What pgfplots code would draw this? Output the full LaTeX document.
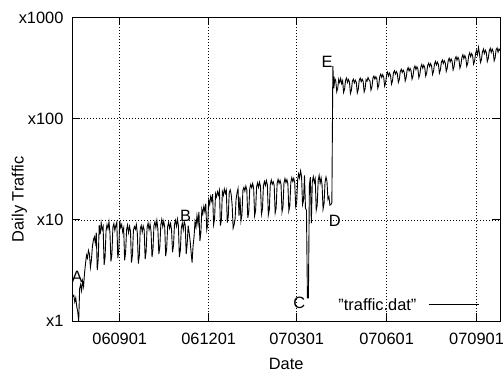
\documentclass[border=0pt]{standalone}
\usepackage{fontspec}
\setmainfont{Liberation Sans}
\usepackage{pgfplots}
\pgfplotsset{compat=1.18}
\newcommand{\fs}{\fontsize{16.4}{19.7}\selectfont}
\begin{document}
\begin{tikzpicture}[font=\fs]
\begin{axis}[
 at={(0pt,0pt)}, anchor=south west,
 width=428pt, height=304pt, scale only axis,
 xmin=-48.4, xmax=389,
 ymode=log, ymin=1, ymax=1000,
 xtick={0,91,181,273,365},
 xticklabels={060901,061201,070301,070601,070901},
 ytick={1,10,100,1000},
 yticklabels={x1,x10,x100,x1000},
 yminorticks=false,
 xmajorgrids, ymajorgrids,
 grid style={black, line width=0.8pt, dash pattern=on 0.8pt off 2.2pt},
 major tick length=8pt,
 tick style={black, line width=1pt},
 axis line style={line width=1pt},
 tick label style={font=\fs},
 xticklabel style={yshift=-8.5pt},
 yticklabel style={xshift=-5.5pt},
 xlabel={Date}, ylabel={Daily Traffic},
 label style={font=\fs},
 xlabel style={at={(axis description cs:0.5,-0.141)}, anchor=center},
 ylabel style={at={(axis description cs:-0.124,0.401)}, anchor=center},
]
\addplot[black, line width=0.9pt] coordinates {
(-48,1.75)(-47,1.8)(-46,1.55)(-45,1.7)(-44,1.4)(-43,1.25)(-42,1.0)(-41,2.1)(-40,2.3)(-39,2.0)(-38,2.5)
(-37,2.2)(-36,3.0)(-35,3.7)(-34,4.5)(-33,4.2)(-32,5.0)(-31,4.6)
(-30,3.4)(-29,4.0)(-28,5.4)(-27,6.3)(-26,6.8)(-25,5.9)(-24,7.5)
(-23,3.2)(-22,4.1)(-21,8.9)(-20,7.2)(-19,9.4)(-18,8.0)(-17,8.6)
(-16,3.6)(-15,4.3)(-14,7.8)(-13,9.0)(-12,8.2)(-11,9.6)(-10,7.4)
(-9,3.9)(-8,4.6)(-7,8.5)(-6,9.2)(-5,7.9)(-4,8.8)(-3,9.5)
(-2,4.2)(-1,5.0)(0,9.8)(1,8.4)(2,9.0)(3,7.6)(4,8.3)
(5,4.0)(6,4.8)(7,8.0)(8,8.9)(9,7.5)(10,8.6)(11,7.7)
(12,3.8)(13,4.5)(14,7.9)(15,8.6)(16,8.1)(17,9.0)(18,7.4)
(19,3.7)(20,4.4)(21,8.2)(22,8.8)(23,7.6)(24,8.7)(25,8.0)
(26,4.1)(27,4.9)(28,8.5)(29,9.3)(30,8.0)(31,9.1)(32,7.8)
(33,4.3)(34,5.1)(35,8.8)(36,9.6)(37,8.4)(38,9.9)(39,8.2)
(40,4.6)(41,5.4)(42,8.9)(43,10.1)(44,8.6)(45,9.7)(46,8.5)
(47,4.4)(48,5.2)(49,8.6)(50,9.5)(51,8.3)(52,9.2)(53,8.0)
(54,4.8)(55,5.6)(56,9.0)(57,9.9)(58,8.7)(59,10.2)(60,8.8)
(61,4.3)(62,5.0)(63,8.4)(64,9.3)(65,8.0)(66,9.6)(67,8.9)
(68,4.6)(69,5.8)(70,8.8)(71,7.5)(72,6.2)(73,4.8)(74,3.8)
(75,5.5)(76,6.8)(77,9.6)(78,8.5)(79,11.0)(80,9.2)(81,12.0)
(82,6.2)(83,7.5)(84,12.8)(85,11.5)(86,13.6)(87,12.2)(88,14.5)
(89,8.0)(90,9.0)(91,15.8)(92,14.2)(93,17.0)(94,15.5)(95,18.0)
(96,9.0)(97,10.2)(98,18.2)(99,16.9)(100,19.0)(101,17.6)(102,19.5)
(103,8.8)(104,10.0)(105,19.0)(106,17.5)(107,20.2)(108,18.4)(109,19.8)
(110,9.4)(111,10.8)(112,18.6)(113,19.8)(114,17.9)(115,14.0)(116,8.3)
(117,9.0)(118,10.2)(119,16.0)(120,18.5)(121,20.4)(122,11.0)(123,16.8)
(124,9.8)(125,11.2)(126,19.6)(127,21.0)(128,19.3)(129,21.6)(130,19.8)
(131,10.5)(132,12.0)(133,20.5)(134,22.4)(135,20.8)(136,22.9)(137,20.6)
(138,11.0)(139,12.4)(140,21.2)(141,23.2)(142,21.0)(143,23.6)(144,21.5)
(145,11.4)(146,12.8)(147,21.8)(148,24.0)(149,22.0)(150,24.5)(151,22.3)
(152,11.2)(153,12.6)(154,22.3)(155,24.8)(156,22.5)(157,23.8)(158,21.9)
(159,11.7)(160,13.1)(161,22.8)(162,25.2)(163,23.0)(164,24.6)(165,22.4)
(166,12.0)(167,13.5)(168,23.2)(169,25.6)(170,23.4)(171,25.0)(172,22.8)
(173,12.3)(174,13.8)(175,23.5)(176,26.2)(177,24.0)(178,25.8)(179,23.3)
(180,13.5)(181,14.8)(182,25.0)(183,28.5)(184,26.0)(185,30.5)(186,27.0)
(187,14.2)(188,15.5)(189,27.5)(190,13.0)(191,12.5)(192,1.7)(193,1.7)
(194,22.0)(195,26.5)(196,9.3)(197,24.0)(198,26.8)(199,23.5)(200,25.5)
(201,12.5)(202,14.0)(203,24.5)(204,27.5)(205,23.0)(206,26.0)(207,22.0)
(208,12.8)(209,14.5)(210,23.5)(211,26.5)(212,24.0)(213,16.0)(214,17.0)
(215,14.0)(216,14.2)(217,14.8)
(218,330)(219,200)(220,250)(221,235)
(222,185)(223,200)(224,245)(225,228)(226,250)(227,222)(228,238)
(229,182)(230,196)(231,240)(232,252)(233,228)(234,244)(235,230)
(236,178)(237,192)(238,236)(239,246)(240,226)(241,240)(242,228)
(243,180)(244,195)(245,240)(246,252)(247,232)(248,246)(249,234)
(250,184)(251,198)(252,244)(253,236)(254,255)(255,242)(256,236)
(257,192)(258,206)(259,252)(260,264)(261,246)(262,260)(263,248)
(264,200)(265,216)(266,262)(267,276)(268,256)(269,272)(270,258)
(271,210)(272,226)(273,272)(274,288)(275,264)(276,282)(277,268)
(278,220)(279,236)(280,284)(281,298)(282,276)(283,292)(284,278)
(285,228)(286,244)(287,292)(288,308)(289,286)(290,302)(291,288)
(292,236)(293,254)(294,302)(295,320)(296,296)(297,314)(298,298)
(299,246)(300,264)(301,314)(302,332)(303,306)(304,326)(305,310)
(306,254)(307,274)(308,324)(309,344)(310,316)(311,338)(312,320)
(313,264)(314,284)(315,336)(316,354)(317,328)(318,350)(319,332)
(320,274)(321,294)(322,348)(323,368)(324,340)(325,362)(326,344)
(327,282)(328,304)(329,360)(330,380)(331,352)(332,374)(333,356)
(334,294)(335,316)(336,374)(337,396)(338,364)(339,390)(340,370)
(341,304)(342,326)(343,388)(344,410)(345,378)(346,404)(347,384)
(348,316)(349,340)(350,402)(351,428)(352,392)(353,420)(354,398)
(355,330)(356,354)(357,420)(358,448)(359,410)(360,440)(361,418)
(362,346)(363,370)(364,442)(365,472)(366,430)(367,505)(368,440)
(369,360)(370,384)(371,456)(372,488)(373,442)(374,476)(375,450)
(376,368)(377,394)(378,466)(379,496)(380,452)(381,488)(382,460)
(383,374)(384,400)(385,480)(386,500)(387,455)(388,490)(389,470)
};
\node[font=\fs, anchor=base east, inner sep=0pt] at (axis description cs:0.805,0.036) {\symbol{34}traffic.dat\symbol{34}};
\draw[black, line width=1pt] (axis description cs:0.833,0.054) -- (axis description cs:0.950,0.054);
\node[font=\fs] at (axis cs:-43.6,2.73) {A};
\node[font=\fs] at (axis cs:67.4,10.95) {B};
\node[font=\fs] at (axis cs:183.6,1.507) {C};
\node[font=\fs] at (axis cs:220,9.77) {D};
\node[font=\fs] at (axis cs:212,362) {E};
\end{axis}
\pgfresetboundingbox
\useasboundingbox (-72.5pt,-51pt) rectangle (431pt,321.5pt);
\end{tikzpicture}
\end{document}
